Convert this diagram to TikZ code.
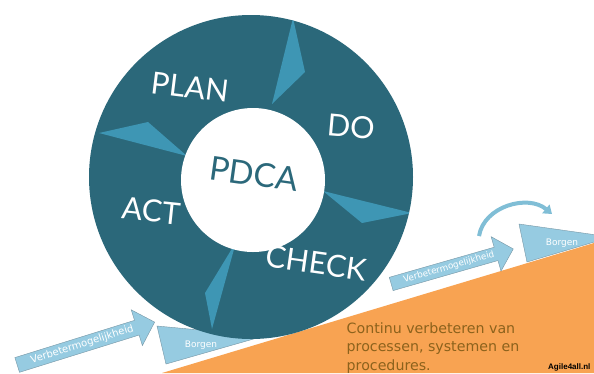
\documentclass[tikz,border=0pt]{standalone}
\usepackage{fontspec}
\setmainfont{Lato}
\newfontfamily\verdanafont{DejaVu Sans}
\newfontfamily\arialfont{Liberation Sans}
\usetikzlibrary{shapes.arrows,arrows.meta}

\definecolor{pdcadark}{RGB}{43,104,122}
\definecolor{pdcawedge}{RGB}{62,150,180}
\definecolor{stepblue}{RGB}{150,203,225}
\definecolor{stepedge}{RGB}{118,150,165}
\definecolor{slopeorange}{RGB}{248,163,82}
\definecolor{slopetext}{RGB}{140,98,28}

\tikzset{
    phase/.style={text=white, font=\fontsize{30.5pt}{30.5pt}\selectfont, text height=22pt, text depth=0pt, inner sep=0pt},
    verbeter/.style={single arrow, fill=stepblue, draw=stepedge, line width=0.4pt, text=white, single arrow head extend=11pt, inner xsep=1pt, anchor=tail},
    borgen/.style={fill=stepblue, draw=stepedge, line width=0.4pt},
    smalltext/.style={text=white, inner sep=0pt, font=\verdanafont\fontsize{#1}{#1}\selectfont},
}

\begin{document}
\begin{tikzpicture}[x=1pt, y=-1pt]
    \clip (0,0) rectangle (594,373);
    \fill[white] (0,0) rectangle (594,373);
    \fill[slopeorange] (162,373) -- (594,243) -- (594,373) -- cycle;

    % borgen blocks
    \draw[borgen] (157,326) -- (166,364) -- (264,336) -- cycle;
    \draw[borgen] (519,224) -- (527,262) -- (611,237) -- cycle;
    \node[smalltext=9pt] (borgenlinks) at (201,345) {Borgen};
    \node[smalltext=9pt] (borgenrechts) at (562,243) {Borgen};

    % verbeter arrows
    \node[verbeter, rotate=17.3, minimum height=144pt, text height=7.2pt, text depth=2pt, inner ysep=2.9pt, font=\verdanafont\fontsize{10pt}{10pt}\selectfont] (verbeterlinks) at (17,365) {Verbetermogelijkheid};
    \node[verbeter, rotate=16, minimum height=127pt, text height=6.4pt, text depth=1.8pt, inner ysep=2.6pt, font=\verdanafont\fontsize{8.8pt}{8.8pt}\selectfont] (verbeterrechts) at (391,284) {Verbetermogelijkheid};

    \coordinate (curvestart) at (479,236);
    \coordinate (curveend) at (552,214);
    \draw[stepblue!75!pdcawedge, line width=4pt, -{Triangle[length=8pt, width=11pt]}] (curvestart) .. controls (484,206) and (528,194) .. (curveend);

    % cycle
    \fill[pdcadark] (251,177) circle (162pt);
    \begin{scope}
        \clip (251,177) circle (162pt);
        \fill[pdcawedge] (293,18) -- (305,72) -- (272,104) -- cycle;
        \fill[pdcawedge] (323,191) -- (412,213) -- (362,223) -- cycle;
        \fill[pdcawedge] (236,242) -- (205,293) -- (212,329) -- cycle;
        \fill[pdcawedge] (99,133) -- (148,122) -- (187,156) -- cycle;
    \end{scope}
    \fill[white] (253,180) circle (72pt);

    \node[phase, rotate=-7] (plan) at (190,87) {PLAN};
    \node[phase, rotate=-5] (do) at (351,127) {DO};
    \node[phase, rotate=-8] (check) at (316,263) {CHECK};
    \node[phase, rotate=-6] (act) at (151,211) {ACT};
    \node[phase, text=pdcadark, rotate=-8, font=\fontsize{33pt}{33pt}\selectfont, text height=23.5pt] (pdca) at (254,174) {PDCA};

    \node[anchor=north west, inner sep=0pt, align=left, text=slopetext, font=\verdanafont\fontsize{14.2pt}{18.3pt}\selectfont] (continu) at (346.5,322.5) {Continu verbeteren van\\processen, systemen en\\procedures.};
    \node[anchor=base west, inner sep=0pt, font=\arialfont\bfseries\fontsize{8pt}{8pt}\selectfont] (agile) at (548,369) {Agile4all.nl};
\end{tikzpicture}
\end{document}
